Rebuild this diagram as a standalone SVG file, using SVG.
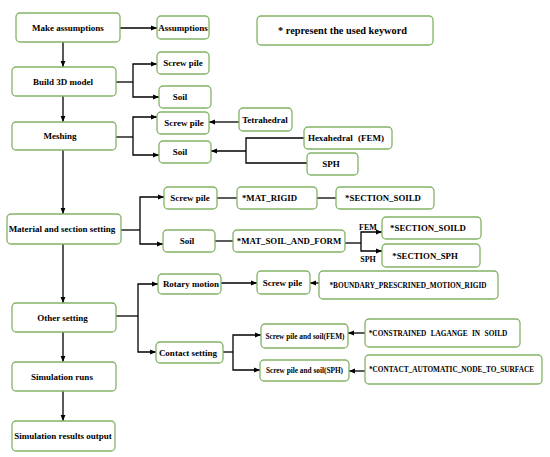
<svg xmlns="http://www.w3.org/2000/svg" width="550" height="457" viewBox="0 0 550 457">
<style>
.b{fill:#fff;stroke:#82b366;stroke-width:1.3}
text{font-family:"Liberation Serif","Times New Roman",serif;font-weight:bold;font-size:9px;fill:#000;text-anchor:middle}
.s{font-size:7.3px}
.k{font-size:8.8px}
.c{fill:none;stroke:#000;stroke-width:1.3}
.a{marker-end:url(#ah)}
</style>
<defs>
<marker id="ah" viewBox="0 0 10 10" refX="10" refY="5" markerWidth="6" markerHeight="6" markerUnits="userSpaceOnUse" orient="auto"><path d="M0,1 L10,5 L0,9 z" fill="#000"/></marker>
</defs>
<rect width="550" height="457" fill="#fff"/>
<g id="connectors">
<path class="c a" d="M120,28 H157"/>
<path class="c a" d="M63,42 V67"/>
<path class="c" d="M116,82 H133"/>
<path class="c a" d="M133,82 V64 H157"/>
<path class="c a" d="M133,82 V97 H159"/>
<path class="c a" d="M63,96 V122"/>
<path class="c" d="M116,137 H133"/>
<path class="c a" d="M133,137 V117 H157"/>
<path class="c a" d="M133,137 V155 H159"/>
<path class="c a" d="M239,122 H209"/>
<path class="c" d="M304,138 H246 V163 H307"/>
<path class="c a" d="M246,151 H211"/>
<path class="c a" d="M63,150 V214"/>
<path class="c" d="M121,230 H140"/>
<path class="c a" d="M140,230 V197 H164"/>
<path class="c a" d="M140,230 V244 H163"/>
<path class="c" d="M217,198 H237"/>
<path class="c" d="M317,198 H336"/>
<path class="c" d="M215,241 H233"/>
<path class="c" d="M345,243 H361"/>
<path class="c a" d="M361,243 V232 H382"/>
<path class="c a" d="M361,243 V251 H382"/>
<path class="c a" d="M63,244 V303"/>
<path class="c" d="M116,316 H138"/>
<path class="c a" d="M138,316 V284 H158"/>
<path class="c a" d="M138,316 V352 H156"/>
<path class="c a" d="M221,283 H257"/>
<path class="c a" d="M319,283 H310"/>
<path class="c" d="M223,352 H233"/>
<path class="c a" d="M233,352 V335 H261"/>
<path class="c a" d="M233,352 V370 H260"/>
<path class="c a" d="M365,333 H348"/>
<path class="c a" d="M365,371 H349"/>
<path class="c a" d="M63,332 V362"/>
<path class="c a" d="M63,391 V421"/>
<text x="368" y="230" style="font-size:8px">FEM</text>
<text x="368" y="262" style="font-size:8px">SPH</text>
</g>
<g id="make"><rect class="b" x="16" y="13" width="104" height="29" rx="4"/><text x="68" y="30.7">Make assumptions</text></g>
<g id="assumptions"><rect class="b" x="157" y="16" width="52" height="23" rx="4"/><text x="183" y="30.7">Assumptions</text></g>
<g id="legend"><rect class="b" x="257" y="16" width="176" height="29" rx="4"/><text x="342.5" y="34" style="font-size:10.3px">* represent the used keyword</text></g>
<g id="build"><rect class="b" x="12" y="67" width="104" height="29" rx="4"/><text x="63" y="84.7">Build 3D model</text></g>
<g id="sp_build"><rect class="b" x="157" y="52" width="52" height="22" rx="4"/><text x="183" y="66.2">Screw pile</text></g>
<g id="soil_build"><rect class="b" x="159" y="86" width="52" height="22" rx="4"/><text x="180" y="100.2">Soil</text></g>
<g id="meshing"><rect class="b" x="12" y="122" width="104" height="28" rx="4"/><text x="60" y="139.2">Meshing</text></g>
<g id="sp_mesh"><rect class="b" x="157" y="112" width="52" height="22" rx="4"/><text x="184" y="126.2">Screw pile</text></g>
<g id="soil_mesh"><rect class="b" x="159" y="141" width="52" height="22" rx="4"/><text x="180" y="155.2">Soil</text></g>
<g id="tetra"><rect class="b" x="239" y="108" width="53" height="23" rx="4"/><text x="265" y="122.7">Tetrahedral</text></g>
<g id="hexa"><rect class="b" x="304" y="127" width="88" height="22" rx="4"/><text x="346" y="141.2" word-spacing="3">Hexahedral (FEM)</text></g>
<g id="sph"><rect class="b" x="307" y="153" width="51" height="22" rx="4"/><text x="331" y="167.2">SPH</text></g>
<g id="mat"><rect class="b" x="7" y="214" width="114" height="30" rx="4"/><text x="62" y="232.2">Material and section setting</text></g>
<g id="sp_mat"><rect class="b" x="164" y="187" width="53" height="22" rx="4"/><text x="190" y="201.2">Screw pile</text></g>
<g id="soil_mat"><rect class="b" x="163" y="230" width="52" height="22" rx="4"/><text x="187" y="244.2">Soil</text></g>
<g id="mat_rigid"><rect class="b" x="237" y="187" width="80" height="22" rx="4"/><text class="k" x="269.5" y="201.2">*MAT_RIGID</text></g>
<g id="section_soild1"><rect class="b" x="336" y="187" width="98" height="22" rx="4"/><text class="k" x="383" y="201.2">*SECTION_SOILD</text></g>
<g id="mat_soil_form"><rect class="b" x="233" y="230" width="112" height="22" rx="4"/><text class="k" x="289" y="244.2">*MAT_SOIL_AND_FORM</text></g>
<g id="section_soild2"><rect class="b" x="382" y="217" width="99" height="22" rx="4"/><text class="k" x="428" y="231.2">*SECTION_SOILD</text></g>
<g id="section_sph"><rect class="b" x="382" y="244" width="98" height="23" rx="4"/><text class="k" x="425" y="258.7">*SECTION_SPH</text></g>
<g id="rotary"><rect class="b" x="158" y="274" width="63" height="20" rx="4"/><text x="191" y="287.2">Rotary motion</text></g>
<g id="sp_other"><rect class="b" x="257" y="271" width="53" height="23" rx="4"/><text x="282.5" y="285.7">Screw pile</text></g>
<g id="boundary"><rect class="b" x="319" y="271" width="179" height="28" rx="4"/><text class="s" x="408" y="287.6">*BOUNDARY_PRESCRINED_MOTION_RIGID</text></g>
<g id="other"><rect class="b" x="12" y="303" width="104" height="29" rx="4"/><text x="62.5" y="320.7">Other setting</text></g>
<g id="contact"><rect class="b" x="156" y="342" width="67" height="21" rx="4"/><text x="188" y="355.7">Contact setting</text></g>
<g id="sps_fem"><rect class="b" x="261" y="324" width="87" height="24" rx="4"/><text class="s" x="305" y="338.6">Screw pile and soil(FEM)</text></g>
<g id="sps_sph"><rect class="b" x="260" y="360" width="89" height="21" rx="4"/><text class="s" x="304.5" y="373.1">Screw pile and soil(SPH)</text></g>
<g id="constrained"><rect class="b" x="365" y="319" width="155" height="28" rx="4"/><text class="s" x="438" y="335.6" word-spacing="2.6">*CONSTRAINED LAGANGE IN SOILD</text></g>
<g id="contact_auto"><rect class="b" x="365" y="355" width="177" height="29" rx="4"/><text class="s" x="451.5" y="372.1">*CONTACT_AUTOMATIC_NODE_TO_SURFACE</text></g>
<g id="simruns"><rect class="b" x="12" y="362" width="104" height="29" rx="4"/><text x="62" y="379.7">Simulation runs</text></g>
<g id="results"><rect class="b" x="12" y="421" width="103" height="30" rx="4"/><text x="63" y="439.2">Simulation results output</text></g>
</svg>
